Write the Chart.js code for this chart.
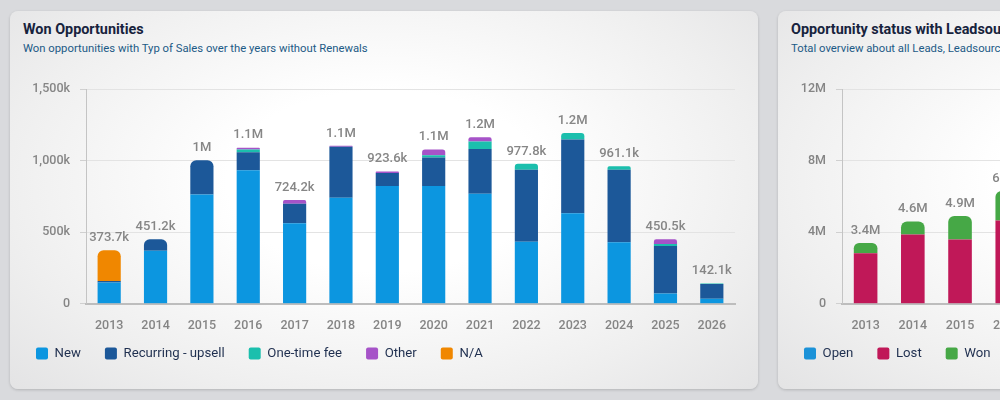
<!DOCTYPE html>
<html>
<head>
<meta charset="utf-8">
<script src="https://cdn.jsdelivr.net/npm/chart.js@4.4.1/dist/chart.umd.min.js"></script>
<style>
  body { margin: 0; width: 1000px; height: 400px; overflow: hidden; background: #d9dadd; font-family: Roboto, sans-serif; position: relative; }
  .card { position: absolute; top: 11px; width: 748px; height: 378px; border-radius: 8px; overflow: hidden;
    background: radial-gradient(ellipse 70% 80% at 50% 45%, #ffffff 30%, #efefef 72%, #e3e3e4 100%);
    box-shadow: 0 1px 3px rgba(0,0,0,.18); }
  .card h2 { margin: 0; position: absolute; left: 13px; top: 10px; font-size: 14.4px; font-weight: 700; color: #17233d; white-space: nowrap; }
  .card p { margin: 0; position: absolute; left: 13px; top: 31px; font-size: 11.3px; color: #1c5a86; white-space: nowrap; }
  .card canvas { position: absolute; left: 2px; top: 60px; }
</style>
</head>
<body>
<div class="card" style="left:10px">
  <h2>Won Opportunities</h2>
  <p>Won opportunities with Typ of Sales over the years without Renewals</p>
  <canvas id="chartWon" width="746" height="310"></canvas>
</div>
<div class="card" style="left:778px">
  <h2>Opportunity status with Leadsource</h2>
  <p>Total overview about all Leads, Leadsources</p>
  <canvas id="chartStatus" width="746" height="310"></canvas>
</div>
<script>
const years = ['2013', '2014', '2015', '2016', '2017', '2018', '2019', '2020', '2021', '2022', '2023', '2024', '2025', '2026'];

// won opportunities, in k
const wonNew = [149, 371, 764, 932, 563, 741, 822, 822, 768, 434, 633, 430, 72, 35];
const wonRecurring = [10, 80, 238, 126, 136, 355, 91, 199, 313, 502, 515, 506, 332, 103];
const wonOneTime = [0, 0, 0, 20, 0, 0, 0, 16, 52, 42, 44, 25, 14, 4];
const wonOther = [0, 0, 0, 12, 25, 7, 10.6, 40, 30, 0, 0, 0, 32, 0];
const wonNA = [214.7, 0, 0, 0, 0, 0, 0, 0, 0, 0, 0, 0, 0, 0];
const wonTotals = ['373.7k', '451.2k', '1M', '1.1M', '724.2k', '1.1M', '923.6k', '1.1M', '1.2M', '977.8k', '1.2M', '961.1k', '450.5k', '142.1k'];

// opportunity status, in M (only the first years are visible)
const statusOpen = [0, 0, 0, 0];
const statusLost = [2.82, 3.87, 3.59, 4.66];
const statusWon = [0.58, 0.73, 1.31, 1.64];
const statusTotals = ['3.4M', '4.6M', '4.9M', '6.3M'];

const tickColor = '#858585';
const tickFont = { family: 'Roboto', size: 12.5, weight: '500' };

const totalLabels = {
  id: 'totalLabels',
  afterLayout(chart) {
    // pull the legend a bit closer to the axis
    chart.legend.top -= 11;
    chart.legend.bottom -= 11;
  },
  afterDatasetsDraw(chart, args, opts) {
    const ctx = chart.ctx;
    const xs = chart.scales.x, ys = chart.scales.y;
    ctx.save();
    ctx.font = '500 13px Roboto';
    ctx.fillStyle = '#868686';
    ctx.textAlign = 'center';
    ctx.textBaseline = 'bottom';
    opts.labels.forEach((txt, i) => {
      let sum = 0;
      chart.data.datasets.forEach(ds => { sum += ds.data[i] || 0; });
      ctx.fillText(txt, xs.getPixelForValue(i), ys.getPixelForValue(sum) - 6);
    });
    ctx.restore();
  }
};

function ds(label, data, color, scale) {
  return {
    label: label,
    data: data.map(v => v * scale),
    backgroundColor: color,
    borderColor: color,
    borderRadius: 6,
    borderSkipped: 'start',
    categoryPercentage: 1,
    barPercentage: 0.5
  };
}

function makeOptions(max, step, fmt, yWidth, labels) {
  return {
    responsive: false,
    animation: false,
    layout: { padding: { top: 18, right: 23, left: 0, bottom: 0 } },
    plugins: {
      legend: {
        position: 'bottom',
        align: 'start',
        labels: {
          boxWidth: 12, boxHeight: 12, padding: 24,
          useBorderRadius: true, borderRadius: 2,
          color: '#1f2f4f', font: { family: 'Roboto', size: 13.2 }
        }
      },
      tooltip: { enabled: false },
      totalLabels: { labels: labels }
    },
    scales: {
      x: {
        stacked: true,
        grid: { display: false },
        border: { color: '#bdbdbd', width: 2 },
        afterFit: s => { s.height = 30; },
        ticks: { color: tickColor, font: tickFont, padding: 7 }
      },
      y: {
        stacked: true,
        min: 0, max: max,
        afterFit: s => { s.width = yWidth; },
        grid: { color: '#e3e3e3', tickLength: 6, tickColor: '#d0d0d0' },
        border: { color: '#c4c4c4', width: 1 },
        ticks: { stepSize: step, color: tickColor, font: tickFont, padding: 10, callback: fmt }
      }
    }
  };
}

new Chart(document.getElementById('chartWon'), {
  type: 'bar',
  data: {
    labels: years,
    datasets: [
      ds('New', wonNew, '#0c96e0', 1000),
      ds('Recurring - upsell', wonRecurring, '#1c5899', 1000),
      ds('One-time fee', wonOneTime, '#1bbfad', 1000),
      ds('Other', wonOther, '#a653c8', 1000),
      ds('N/A', wonNA, '#f08700', 1000)
    ]
  },
  options: makeOptions(1500000, 500000, v => v === 0 ? '0' : (v / 1000).toLocaleString('en-US') + 'k', 74, wonTotals),
  plugins: [totalLabels]
});

new Chart(document.getElementById('chartStatus'), {
  type: 'bar',
  data: {
    labels: years,
    datasets: [
      ds('Open', statusOpen, '#1b92d8', 1000000),
      ds('Lost', statusLost, '#c01858', 1000000),
      ds('Won', statusWon, '#46a846', 1000000)
    ]
  },
  options: makeOptions(12000000, 4000000, v => v === 0 ? '0' : (v / 1000000) + 'M', 62, statusTotals),
  plugins: [totalLabels]
});
</script>
</body>
</html>
